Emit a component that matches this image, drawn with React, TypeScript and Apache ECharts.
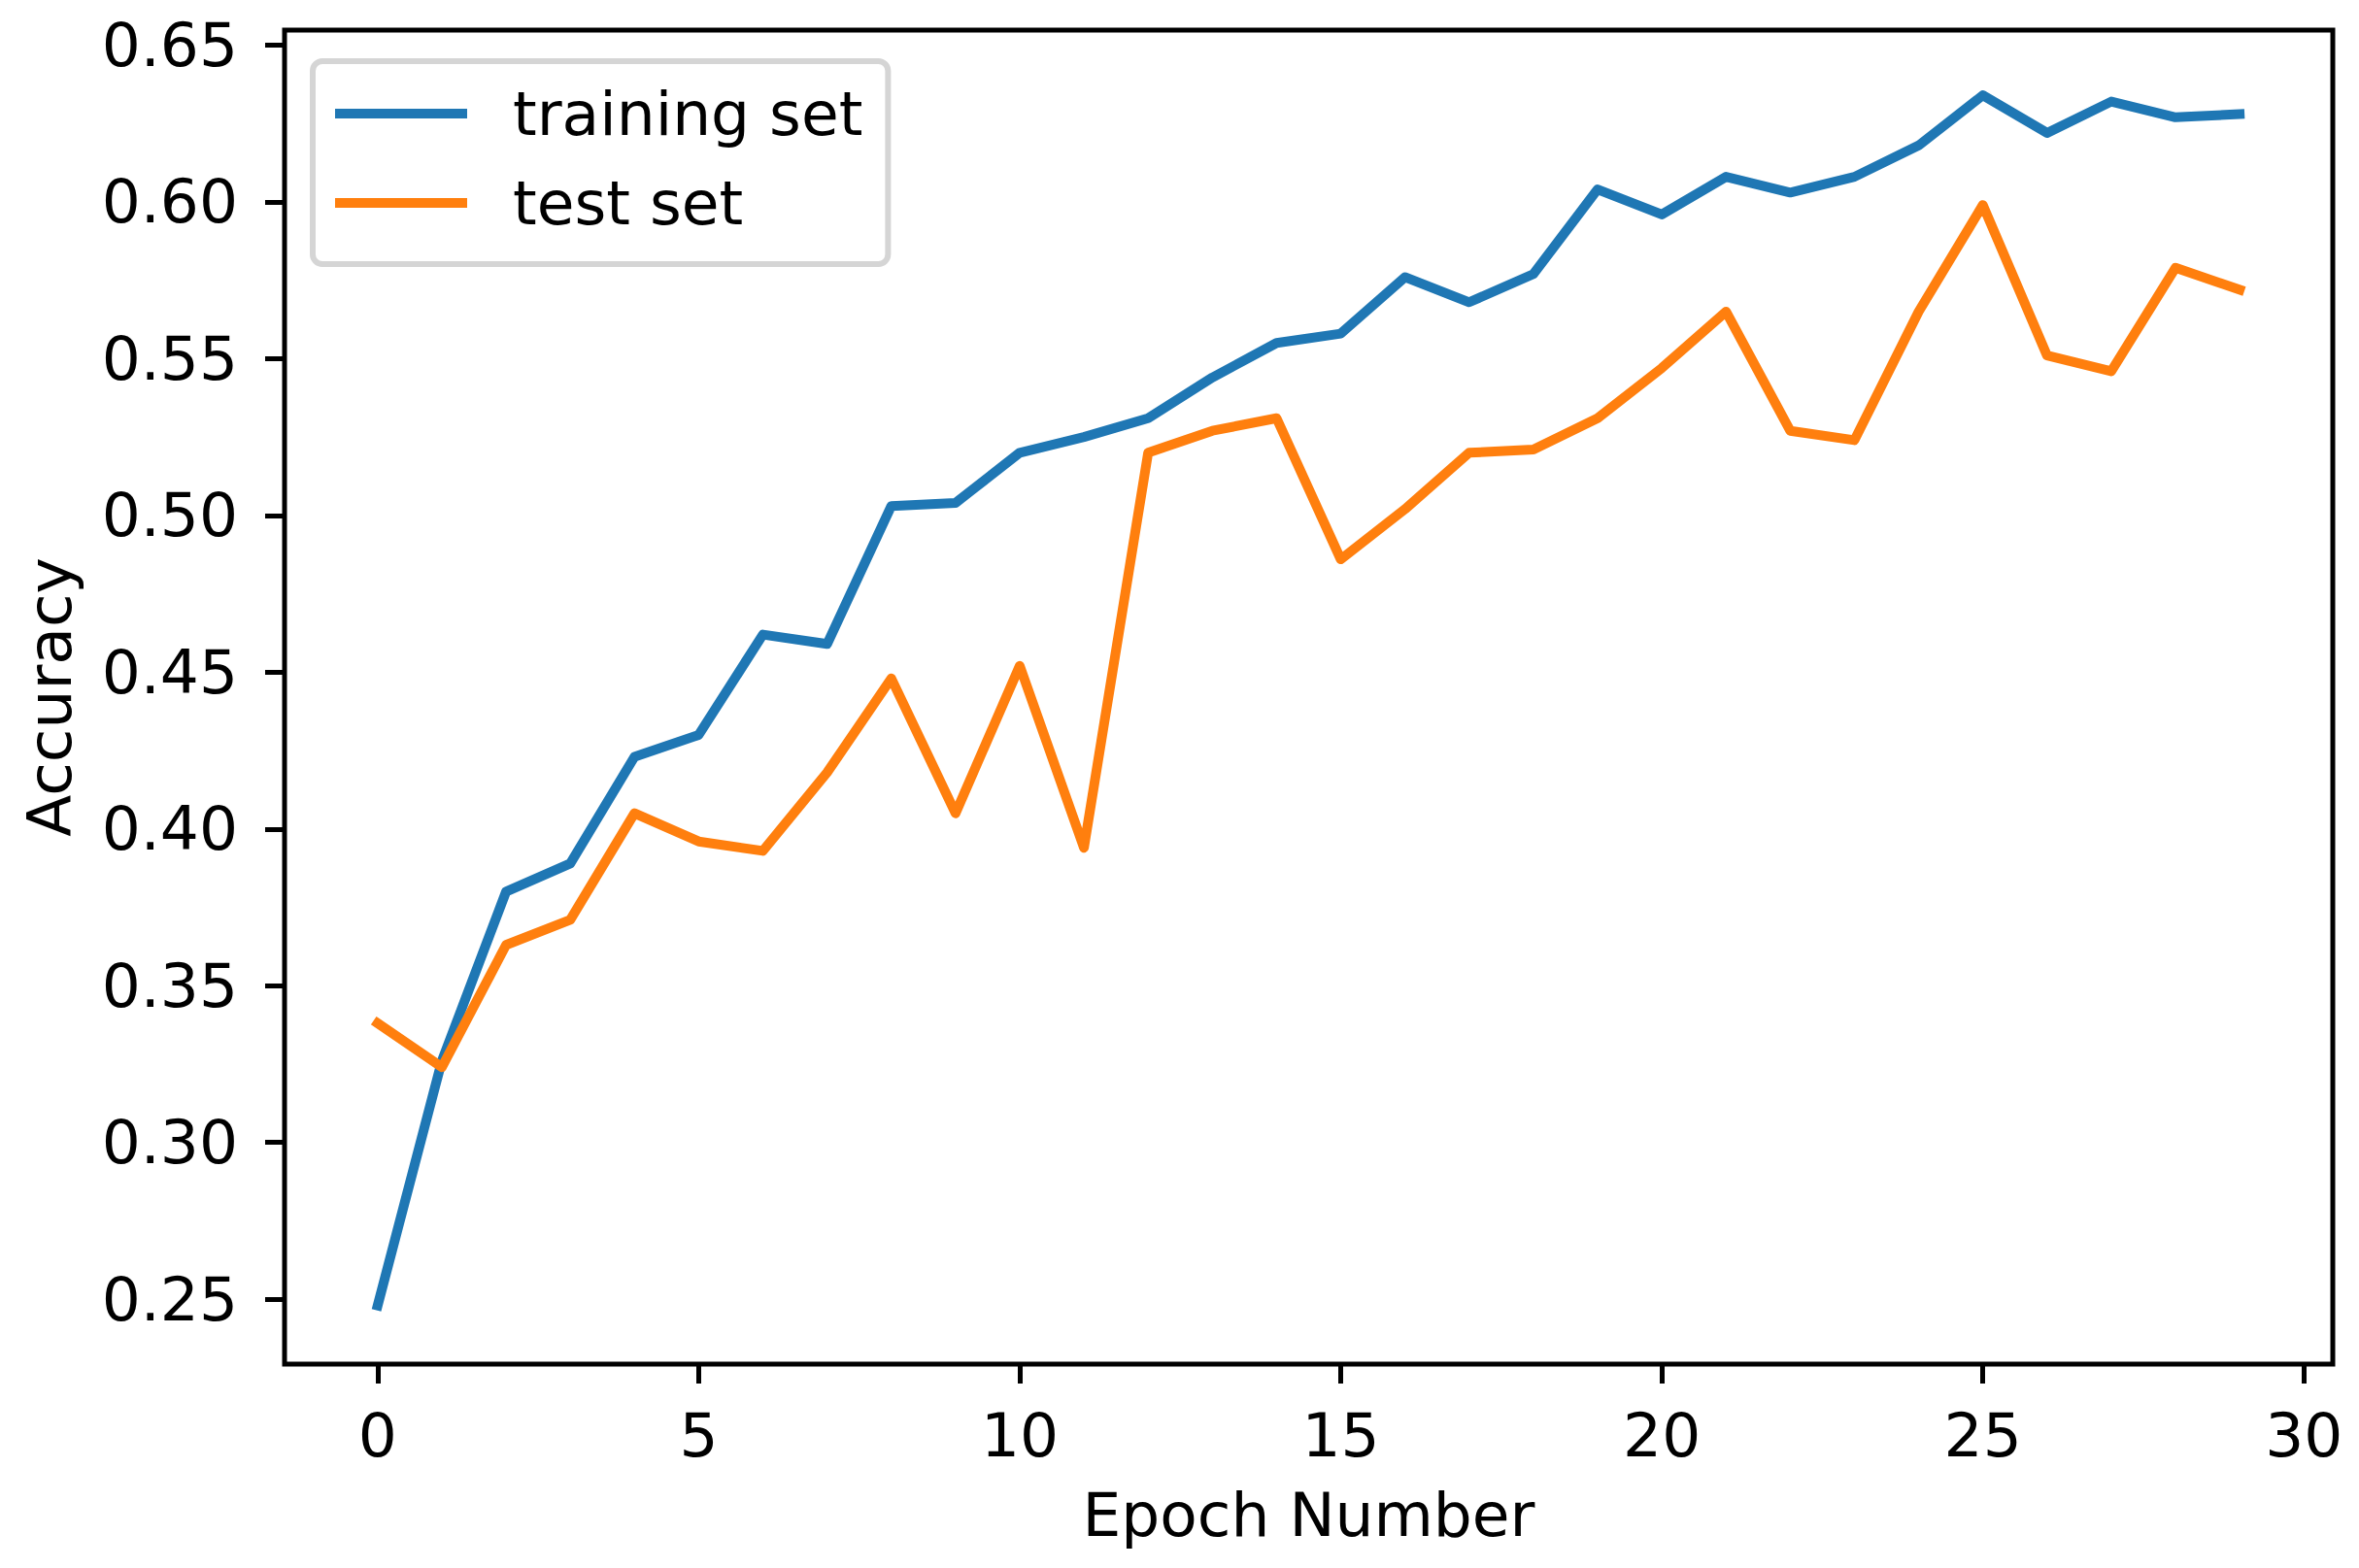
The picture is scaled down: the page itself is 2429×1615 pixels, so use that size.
import React, { useEffect, useRef } from "react";
import * as echarts from "echarts";

const epochs = [0, 1, 2, 3, 4, 5, 6, 7, 8, 9, 10, 11, 12, 13, 14, 15, 16, 17, 18, 19, 20, 21, 22, 23, 24, 25, 26, 27, 28, 29];
const trainingSet = [
  0.248, 0.326, 0.38, 0.389, 0.423, 0.43, 0.462, 0.459, 0.503, 0.504,
  0.52, 0.525, 0.531, 0.544, 0.555, 0.558, 0.576, 0.568, 0.577, 0.604,
  0.596, 0.608, 0.603, 0.608, 0.618, 0.634, 0.622, 0.632, 0.627, 0.628,
];
const testSet = [
  0.338, 0.324, 0.363, 0.371, 0.405, 0.396, 0.393, 0.418, 0.448, 0.405,
  0.452, 0.394, 0.52, 0.527, 0.531, 0.486, 0.502, 0.52, 0.521, 0.531,
  0.547, 0.565, 0.527, 0.524, 0.565, 0.599, 0.551, 0.546, 0.579, 0.572,
];
const xTicks = [0, 5, 10, 15, 20, 25, 30];
const yTicks = [0.25, 0.3, 0.35, 0.4, 0.45, 0.5, 0.55, 0.6, 0.65];
const xLimits = [-1.45, 30.45];
const yLimits = [0.2293, 0.6548];
const seriesNames = ["training set", "test set"];
const seriesColors = ["#1f77b4", "#ff7f0e"];

const FONT = "DejaVu Sans";
const FS = 63;

export default function App() {
  const ref = useRef<HTMLDivElement>(null);
  useEffect(() => {
    if (!ref.current) return;
    const chart = echarts.init(ref.current, undefined, { renderer: "svg" });
    const seriesData = [trainingSet, testSet];
    chart.setOption({
      animation: false,
      backgroundColor: "#ffffff",
      grid: {
        left: 293,
        right: 27,
        top: 31,
        bottom: 210,
        show: true,
        borderColor: "#000000",
        borderWidth: 5,
        backgroundColor: "transparent",
      },
      legend: {
        show: true,
        orient: "vertical",
        left: 322,
        top: 63,
        icon: "rect",
        itemWidth: 136,
        itemHeight: 10,
        itemGap: 22,
        padding: [19, 26, 28, 23],
        backgroundColor: "#ffffff",
        borderColor: "#d5d5d5",
        borderWidth: 6,
        borderRadius: 10,
        textStyle: {
          fontFamily: FONT,
          fontSize: FS,
          lineHeight: 70,
          color: "#000000",
          padding: [0, 0, 0, 42],
        },
        data: seriesNames,
      },
      xAxis: {
        type: "value",
        min: xLimits[0],
        max: xLimits[1],
        name: "Epoch Number",
        nameLocation: "middle",
        nameGap: 124,
        nameTextStyle: { fontFamily: FONT, fontSize: FS, color: "#000000" },
        axisLine: { show: false, onZero: false },
        splitLine: { show: false },
        axisTick: {
          show: true,
          length: 20,
          lineStyle: { color: "#000000", width: 5 },
          customValues: xTicks,
        },
        axisLabel: {
          show: true,
          margin: 42,
          fontFamily: FONT,
          fontSize: FS,
          color: "#000000",
          customValues: xTicks,
          formatter: (v: number) => String(v),
        },
      },
      yAxis: {
        type: "value",
        min: yLimits[0],
        max: yLimits[1],
        name: "Accuracy",
        nameLocation: "middle",
        nameGap: 210,
        nameTextStyle: { fontFamily: FONT, fontSize: FS, color: "#000000" },
        axisLine: { show: false, onZero: false },
        splitLine: { show: false },
        axisTick: {
          show: true,
          length: 20,
          lineStyle: { color: "#000000", width: 5 },
          customValues: yTicks,
        },
        axisLabel: {
          show: true,
          margin: 48,
          fontFamily: FONT,
          fontSize: FS,
          color: "#000000",
          customValues: yTicks,
          formatter: (v: number) => v.toFixed(2),
        },
      },
      series: seriesNames.map((name, i) => ({
        name,
        type: "line",
        data: epochs.map((e, k) => [e, seriesData[i][k]]),
        showSymbol: false,
        symbol: "none",
        color: seriesColors[i],
        lineStyle: { color: seriesColors[i], width: 10, join: "round", cap: "square" },
        itemStyle: { color: seriesColors[i] },
        z: 2 + i,
      })),
    });
    return () => chart.dispose();
  }, []);
  return (
    <div
      ref={ref}
      style={{ position: "fixed", left: 0, top: 0, width: 2429, height: 1615, background: "#fff" }}
    />
  );
}
